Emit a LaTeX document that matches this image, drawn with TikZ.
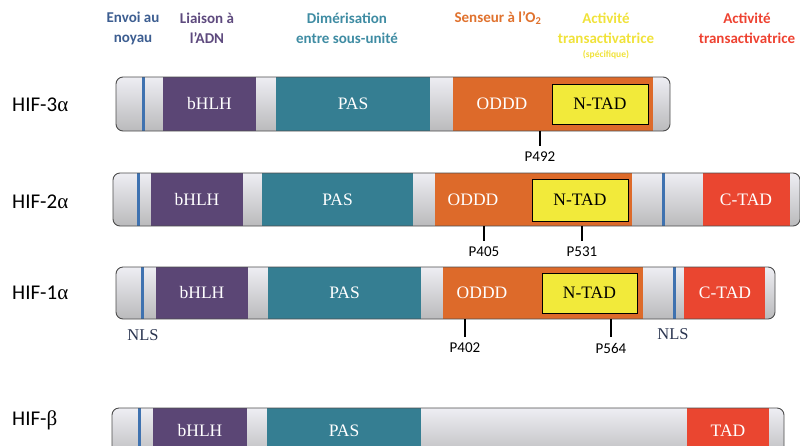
\documentclass[tikz,border=0pt]{standalone}
\usepackage{fontspec}
\setmainfont{Carlito}
\newfontfamily\domfont{Liberation Serif}
\definecolor{bhlhcol}{HTML}{5B4675}
\definecolor{pascol}{HTML}{357E92}
\definecolor{odddcol}{HTML}{DD6A2A}
\definecolor{ntadcol}{HTML}{F2EA3A}
\definecolor{ctadcol}{HTML}{EA4630}
\definecolor{nlscol}{HTML}{3F72B0}
\definecolor{envoicol}{HTML}{3D5E91}
\definecolor{liaisoncol}{HTML}{5E4A7E}
\definecolor{dimercol}{HTML}{3F8CA3}
\definecolor{senseurcol}{HTML}{E0722E}
\definecolor{specol}{HTML}{F0E23A}
\definecolor{activcol}{HTML}{EE4231}
\definecolor{nlstxt}{HTML}{2B3550}

\begin{document}
\begin{tikzpicture}[x=1pt,y=1pt,
    bar/.style={top color={rgb,255:red,238;green,238;blue,243}, bottom color={rgb,255:red,186;green,186;blue,188}, rounded corners=7pt},
    rim/.style={draw=black!70, line width=0.9pt, rounded corners=7pt},
    dom/.style={text=white, font=\domfont\fontsize{17.5}{20}\selectfont, inner sep=1pt},
    ntxt/.style={text=black, font=\domfont\fontsize{17.5}{20}\selectfont, inner sep=1pt},
    ntadbox/.style={fill=ntadcol, draw=black, line width=1pt},
    nls/.style={draw=nlscol, line width=3pt},
    nlslab/.style={text=nlstxt, font=\domfont\fontsize{16.5}{18}\selectfont, inner sep=1pt},
    tick/.style={line width=2.6pt, shorten >=5pt},
    ptxt/.style={font=\fontsize{15}{17}\selectfont, inner sep=1pt},
    head/.style={font=\bfseries\fontsize{15}{20}\selectfont, align=center, inner sep=0},
    hif/.style={font=\fontsize{21}{24}\selectfont, anchor=west, inner sep=0}]

    \useasboundingbox (0,0) rectangle (800,-445);
    \clip (0,0) rectangle (800,-445);

    % headings
    \node[head, text=envoicol] (envoi) at (133,-28) {Envoi au\\noyau};
    \node[head, text=liaisoncol] (liaison) at (207,-28) {Liaison à\\l’ADN};
    \node[head, text=dimercol] (dimer) at (347,-28) {Dimérisation\\entre sous-unité};
    \node[head, text=senseurcol] (senseur) at (498,-18) {Senseur à l’O\textsubscript{2}};
    \node[head, text=specol] (activ1) at (606,-28) {Activité\\transactivatrice};
    \node[head, text=specol, font=\bfseries\fontsize{9.5}{11}\selectfont] (spec) at (606,-55) {(spécifique)};
    \node[head, text=activcol] (activ2) at (747,-28) {Activité\\transactivatrice};

    % row names
    \node[hif] (hif3) at (12,-105) {HIF-3{\domfont α}};
    \node[hif] (hif2) at (12,-202) {HIF-2{\domfont α}};
    \node[hif] (hif1) at (12,-293) {HIF-1{\domfont α}};
    \node[hif] (hifb) at (12,-420) {HIF-{\domfont β}};

    % HIF-3 alpha
    \path[bar] (116,-77) rectangle (670,-131);
    \fill[bhlhcol] (163,-77) rectangle (256,-131);
    \fill[pascol] (276,-77) rectangle (430,-131);
    \fill[odddcol] (453,-77) rectangle (653,-131);
    \draw[nls] (143,-77) -- (143,-131);
    \draw[rim] (116,-77) rectangle (670,-131);
    \draw[ntadbox] (552,-84) rectangle (648,-124);
    \node[dom] (bhlh3) at (209.5,-104) {bHLH};
    \node[dom] (pas3) at (353,-104) {PAS};
    \node[dom] (oddd3) at (502,-104) {ODDD};
    \node[ntxt] (ntad3) at (600,-104) {N-TAD};
    \coordinate (t492) at (540,-131);
    \node[ptxt] (p492) at (540,-157) {P492};
    \draw[tick] (t492) -- (p492.north);

    % HIF-2 alpha
    \path[bar] (113,-173) rectangle (800,-226);
    \fill[bhlhcol] (151,-173) rectangle (243,-226);
    \fill[pascol] (262,-173) rectangle (413,-226);
    \fill[odddcol] (435,-173) rectangle (632,-226);
    \fill[ctadcol] (703,-173) rectangle (790,-226);
    \draw[nls] (138,-173) -- (138,-226);
    \draw[nls] (663,-173) -- (663,-226);
    \draw[rim] (113,-173) rectangle (800,-226);
    \draw[ntadbox] (532,-179) rectangle (628,-221);
    \node[dom] (bhlh2) at (197,-199.5) {bHLH};
    \node[dom] (pas2) at (337.5,-199.5) {PAS};
    \node[dom] (oddd2) at (473,-199.5) {ODDD};
    \node[ntxt] (ntad2) at (580,-199.5) {N-TAD};
    \node[dom] (ctad2) at (746,-199.5) {C-TAD};
    \coordinate (t405) at (484,-226);
    \coordinate (t531) at (582,-226);
    \node[ptxt] (p405) at (484,-252) {P405};
    \node[ptxt] (p531) at (582,-252) {P531};
    \draw[tick] (t405) -- (p405.north);
    \draw[tick] (t531) -- (p531.north);

    % HIF-1 alpha
    \path[bar] (116,-267) rectangle (775,-319);
    \fill[bhlhcol] (156,-267) rectangle (248,-319);
    \fill[pascol] (268,-267) rectangle (421,-319);
    \fill[odddcol] (443,-267) rectangle (643,-319);
    \fill[ctadcol] (684,-267) rectangle (765,-319);
    \draw[nls] (142,-267) -- (142,-319);
    \draw[nls] (674,-267) -- (674,-319);
    \draw[rim] (116,-267) rectangle (775,-319);
    \draw[ntadbox] (542,-273) rectangle (637,-313);
    \node[dom] (bhlh1) at (202,-293) {bHLH};
    \node[dom] (pas1) at (344.5,-293) {PAS};
    \node[dom] (oddd1) at (482,-293) {ODDD};
    \node[ntxt] (ntad1) at (589.5,-293) {N-TAD};
    \node[dom] (ctad1) at (725,-293) {C-TAD};
    \node[nlslab] (nlsa) at (143,-335) {NLS};
    \node[nlslab] (nlsb) at (673,-334) {NLS};
    \coordinate (t402) at (465,-319);
    \coordinate (t564) at (611,-319);
    \node[ptxt] (p402) at (465,-348) {P402};
    \node[ptxt] (p564) at (611,-348) {P564};
    \draw[tick] (t402) -- (p402.north);
    \draw[tick] (t564) -- (p564.north);

    % HIF-beta
    \path[bar] (112,-408) rectangle (784,-460);
    \fill[bhlhcol] (153,-408) rectangle (247,-460);
    \fill[pascol] (267,-408) rectangle (421,-460);
    \fill[ctadcol] (687,-408) rectangle (769,-460);
    \draw[nls] (139,-408) -- (139,-460);
    \draw[rim] (112,-408) rectangle (784,-460);
    \node[dom] (bhlhb) at (200,-431) {bHLH};
    \node[dom] (pasb) at (344,-431) {PAS};
    \node[dom] (tadb) at (728,-431) {TAD};

\end{tikzpicture}
\end{document}
